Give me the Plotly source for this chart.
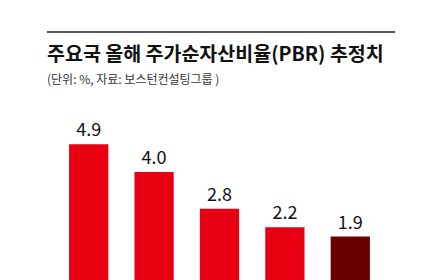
import plotly.graph_objects as go

categories = ["국가1", "국가2", "국가3", "국가4", "한국"]
values = [4.9, 4.0, 2.8, 2.2, 1.9]
labels = ["4.9", "4.0", "2.8", "2.2", "1.9"]
colors = ["#E60012", "#E60012", "#E60012", "#E60012", "#6B0000"]

title = "주요국 올해 주가순자산비율(PBR) 추정치"
subtitle = "(단위: %, 자료: 보스턴컨설팅그룹 )"

W, H = 440, 280
ml, mr, mt, mb = 56, 57, 100, 0
ph = H - mt - mb
pw = W - ml - mr

def px_x(x):
    return (x - ml) / pw

def px_y(y):
    return (H - mb - y) / ph

fig = go.Figure(go.Bar(
    x=categories, y=values, text=labels, textposition="outside",
    marker=dict(color=colors, line=dict(width=0)),
    width=0.6, cliponaxis=False,
    textfont=dict(family="Noto Sans CJK KR", size=18, color="#111111"),
))

fig.update_layout(
    width=W, height=H,
    margin=dict(l=ml, r=mr, t=mt, b=mb),
    paper_bgcolor="white", plot_bgcolor="white",
    showlegend=False,
    xaxis=dict(visible=False),
    yaxis=dict(visible=False, range=[0.49, 0.49 + ph / 30.8]),
    shapes=[dict(type="line", xref="paper", yref="paper",
                 x0=px_x(47), x1=px_x(395), y0=px_y(32), y1=px_y(32),
                 line=dict(color="#222222", width=1.5))],
    annotations=[
        dict(text="<b>" + title + "</b>", xref="paper", yref="paper",
             x=px_x(45), y=px_y(52.5), xanchor="left", yanchor="middle",
             showarrow=False,
             font=dict(family="Noto Sans CJK KR", size=19.5, color="#111111")),
        dict(text=subtitle, xref="paper", yref="paper",
             x=px_x(45), y=px_y(78), xanchor="left", yanchor="middle",
             showarrow=False,
             font=dict(family="Noto Sans CJK KR", size=12, color="#333333")),
    ],
)

fig.write_html("out.html")
